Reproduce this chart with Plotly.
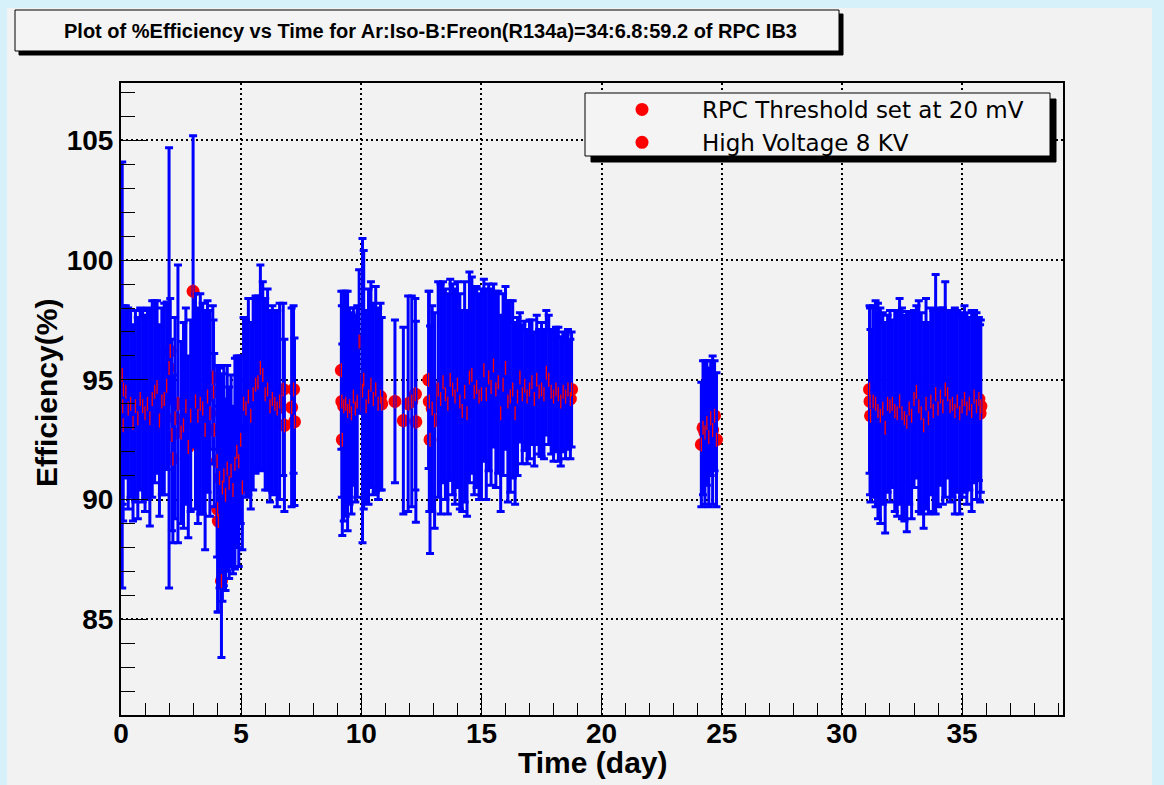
import plotly.graph_objects as go

# ---------------- data ----------------
time_day = [
    # run 1 : day 0 - 3.9
    0.05, 0.07, 0.09, 0.10, 0.20, 0.30, 0.40, 0.50, 0.60, 0.70, 0.80, 0.90,
    1.00, 1.10, 1.20, 1.30, 1.40, 1.50, 1.60, 1.70, 1.80, 1.90,
    2.00, 2.05, 2.12, 2.16, 2.25, 2.37, 2.50, 2.60, 2.70, 2.80, 2.90,
    3.00, 3.10, 3.20, 3.30, 3.40, 3.50, 3.60, 3.70, 3.82, 3.85, 3.88,
    # run 2 : day 4 - 5.05
    4.00, 4.02, 4.05, 4.10, 4.18, 4.22, 4.28, 4.35, 4.42, 4.50, 4.58, 4.66,
    4.74, 4.82, 4.90, 4.98, 5.05,
    # run 3 : day 5.1 - 7.2
    5.10, 5.20, 5.30, 5.40, 5.50, 5.60, 5.70, 5.80, 5.90, 6.00, 6.10, 6.20,
    6.30, 6.40, 6.50, 6.60, 6.75, 6.80, 7.10, 7.18, 7.22,
    # run 4 : day 9.2 - 13.05
    9.17, 9.19, 9.21, 9.27, 9.35, 9.43, 9.51, 9.59, 9.67, 9.75, 9.83, 9.91,
    10.05, 10.10, 10.20, 10.30, 10.40, 10.50, 10.60, 10.70, 10.80, 10.85,
    11.40, 11.75, 11.95, 12.10, 12.25, 12.27, 12.80, 12.83, 12.86, 12.95, 13.05,
    # run 5 : day 13.2 - 18.75
    13.2, 13.3, 13.4, 13.5, 13.6, 13.7, 13.8, 13.9, 14.0, 14.1,
    14.2, 14.3, 14.4, 14.5, 14.6, 14.7, 14.8, 14.9, 15.0, 15.1,
    15.2, 15.3, 15.4, 15.5, 15.6, 15.7, 15.8, 15.9, 16.0, 16.1,
    16.2, 16.3, 16.4, 16.5, 16.6, 16.7, 16.8, 16.9, 17.0, 17.1,
    17.2, 17.3, 17.4, 17.5, 17.6, 17.7, 17.8, 17.9, 18.0, 18.1,
    18.2, 18.3, 18.4, 18.5, 18.6, 18.7, 18.75,
    # run 6 : day 24
    24.15, 24.22, 24.30, 24.38, 24.46, 24.54, 24.62, 24.70, 24.78,
    # run 7 : day 31.2 - 35.8
    31.15, 31.17, 31.19,
    31.3, 31.4, 31.5, 31.6, 31.7, 31.8, 31.9, 32.0, 32.1, 32.2,
    32.3, 32.4, 32.5, 32.6, 32.7, 32.8, 32.9, 33.0, 33.1, 33.2,
    33.3, 33.4, 33.5, 33.6, 33.7, 33.8, 33.9, 34.0, 34.1, 34.2,
    34.3, 34.4, 34.5, 34.6, 34.7, 34.8, 34.9, 35.0, 35.1, 35.2,
    35.3, 35.4, 35.5, 35.6, 35.7, 35.75, 35.78,
]

efficiency = [
    95.2, 93.9, 93.1, 94.6, 94.5, 93.8, 94.0, 93.2, 93.9, 93.4, 94.2, 93.9,
    93.6, 94.0, 93.4, 94.2, 94.5, 94.7, 93.3, 94.1, 94.2, 94.75,
    95.5, 96.2, 92.7, 91.7, 93.4, 94.0, 92.8, 93.1, 93.9, 92.2, 93.5,
    98.7, 94.1, 93.5, 94.0, 93.8, 92.9, 94.3, 93.6, 95.1, 94.5, 92.9,
    91.6, 89.6, 89.1, 90.9, 86.6, 90.5, 91.0, 90.2, 91.3, 90.7, 91.2, 90.4,
    91.5, 92.0, 91.6, 92.5, 90.5,
    94.0, 93.8, 94.3, 93.5, 94.4, 94.8, 94.9, 95.5, 95.2, 94.4, 94.6, 93.9,
    94.2, 94.0, 93.8, 94.1, 94.6, 93.1, 93.85, 94.6, 93.25,
    95.4, 94.1, 92.5, 93.9, 94.0, 93.7, 93.9, 93.6, 94.3, 93.8, 94.1, 96.6,
    94.55, 95.0, 93.9, 94.3, 94.8, 94.2, 94.6, 94.0, 94.3, 94.0,
    94.1, 93.3, 94.0, 94.1, 94.4, 93.25, 95.0, 94.1, 92.5, 93.8, 93.3,
    94.6, 94.2, 94.9, 94.4, 94.0, 95.0, 94.6, 94.3, 94.8, 94.1,
    93.7, 94.5, 93.6, 95.1, 95.2, 94.5, 94.7, 94.3, 94.4, 95.4,
    94.4, 95.1, 94.7, 95.6, 94.6, 94.9, 93.6, 94.8, 95.5, 94.1,
    94.3, 94.6, 93.6, 94.3, 95.1, 94.4, 94.75, 94.3, 94.6, 94.9,
    94.2, 95.0, 94.5, 94.6, 94.4, 95.3, 95.0, 94.5, 94.3, 94.6,
    94.4, 94.1, 94.5, 94.3, 94.6, 94.2, 94.6,
    92.3, 93.0, 92.8, 93.2, 92.6, 93.4, 92.9, 93.5, 92.5,
    94.6, 94.1, 93.5,
    94.1, 94.0, 93.7, 93.5, 93.8, 93.0, 94.0, 93.9, 94.0, 93.7,
    93.6, 94.1, 93.6, 93.4, 93.25, 93.8, 93.5, 94.2, 94.5, 93.9,
    93.6, 93.1, 94.0, 93.4, 94.1, 93.7, 94.4, 93.8, 94.3, 93.9,
    94.6, 94.4, 93.9, 94.0, 93.7, 94.1, 93.6, 93.9, 94.2, 93.8,
    94.0, 93.7, 94.3, 93.9, 94.2, 93.6, 93.9,
]

eff_err = [
    8.9, 4.1, 4.0, 3.5, 3.6, 4.2, 3.9, 4.1, 4.0, 4.2, 3.8, 4.0,
    4.1, 4.0, 4.5, 4.1, 3.8, 3.6, 4.0, 3.9, 4.0, 3.5,
    9.2, 2.2, 4.0, 3.5, 4.2, 5.8, 3.8, 4.3, 4.1, 3.8, 4.0,
    6.5, 4.5, 4.5, 4.6, 4.4, 5.0, 4.0, 4.3, 3.0, 3.0, 3.2,
    4.0, 4.3, 3.8, 4.6, 3.2, 4.75, 4.6, 4.0, 4.3, 4.0, 4.0, 3.5,
    4.4, 4.0, 4.4, 3.5, 2.6,
    3.6, 3.7, 4.1, 3.9, 4.0, 3.7, 3.6, 4.3, 3.9, 4.0, 4.2, 4.0,
    3.9, 3.8, 4.1, 4.1, 3.6, 3.6, 4.15, 3.5, 3.5,
    3.3, 4.0, 4.0, 4.8, 4.7, 5.0, 4.1, 4.2, 3.7, 3.9, 4.0, 3.0,
    6.35, 5.4, 4.0, 4.5, 4.3, 4.0, 4.3, 4.0, 3.9, 3.6,
    3.4, 3.9, 4.5, 4.4, 4.0, 4.2, 3.7, 4.6, 4.75, 4.3, 4.5,
    4.5, 4.8, 4.2, 4.4, 4.6, 4.2, 4.4, 4.5, 4.3, 4.5,
    4.2, 4.6, 4.3, 4.4, 4.1, 4.3, 4.2, 4.3, 4.4, 3.8,
    4.4, 3.9, 4.1, 3.4, 4.1, 3.8, 4.1, 3.8, 3.4, 4.2,
    4.0, 3.7, 3.8, 3.3, 2.7, 2.9, 2.7, 2.8, 2.9, 2.6,
    2.8, 2.7, 2.6, 2.8, 2.7, 2.6, 2.7, 2.6, 2.7, 2.6,
    2.8, 2.7, 2.5, 2.6, 2.5, 2.5, 2.4,
    2.6, 2.8, 3.0, 2.6, 2.9, 2.4, 3.1, 2.3, 2.8,
    3.5, 3.9, 3.6,
    4.0, 4.3, 4.5, 4.5, 4.0, 4.4, 3.7, 4.0, 3.5, 4.2,
    4.3, 4.3, 4.4, 4.3, 4.6, 4.0, 4.3, 3.7, 3.6, 4.4,
    4.2, 4.3, 4.4, 4.0, 3.9, 4.2, 5.0, 4.1, 3.7, 4.1,
    4.5, 3.5, 4.0, 3.9, 4.3, 3.8, 4.2, 3.8, 3.9, 4.0,
    3.6, 4.2, 3.6, 3.9, 3.4, 3.7, 3.6,
]

title_text = "Plot of %Efficiency vs Time for Ar:Iso-B:Freon(R134a)=34:6.8:59.2 of RPC IB3"
legend_names = ["RPC Threshold set at 20 mV", "High Voltage 8 KV"]
x_title = "Time (day)"
y_title = "Efficiency(%)"

n = min(len(time_day), len(efficiency), len(eff_err))
time_day, efficiency, eff_err = time_day[:n], efficiency[:n], eff_err[:n]

# ---------------- layout geometry ----------------
W, H = 1164, 785
L, R, T, B = 121, 1063, 83, 715


def px(x, y):
    return (x - L) / (R - L), (B - y) / (B - T)


FONT = "Liberation Sans, Arial, Helvetica, sans-serif"

fig = go.Figure()

# markers first (ROOT paints markers before the error bars)
fig.add_trace(go.Scatter(
    x=time_day, y=efficiency, mode="markers", name=legend_names[0],
    marker=dict(color="#ff0000", size=13, symbol="circle"),
    showlegend=True,
))
# error bars on top
fig.add_trace(go.Scatter(
    x=time_day, y=efficiency, mode="markers", showlegend=False,
    marker=dict(color="rgba(0,0,0,0)", size=1),
    error_y=dict(type="data", array=eff_err, color="#0000ff", thickness=3, width=4),
))
# the slivers of the markers that stay visible between neighbouring bars
fig.add_trace(go.Scatter(
    x=time_day, y=efficiency, mode="markers", showlegend=False,
    marker=dict(symbol="line-ns", size=10, color="#ff0000",
                line=dict(color="#ff0000", width=1.3)),
))
# second legend entry
fig.add_trace(go.Scatter(
    x=[None], y=[None], mode="markers", name=legend_names[1],
    marker=dict(color="#ff0000", size=13, symbol="circle"), showlegend=True,
))

shapes = []
x0, y0 = px(7, 8)
x1, y1 = px(1152, 790)
shapes.append(dict(type="rect", xref="paper", yref="paper", x0=x0, y0=y0, x1=x1, y1=y1,
                   fillcolor="#f2f2f2", line=dict(width=0), layer="below"))
for (a, b, c, d, fill) in [(19, 14, 843, 55, "#000000"), (15, 10, 839, 51, "#f4f4f4")]:
    x0, y0 = px(a, b)
    x1, y1 = px(c, d)
    shapes.append(dict(type="rect", xref="paper", yref="paper", x0=x0, y0=y0, x1=x1, y1=y1,
                       fillcolor=fill, line=dict(color="#000000", width=1), layer="above"))
for (a, b, c, d, fill) in [(591, 99, 1056, 162, "#000000"), (585, 93, 1050, 156, "#f4f4f4")]:
    x0, y0 = px(a, b)
    x1, y1 = px(c, d)
    shapes.append(dict(type="rect", xref="paper", yref="paper", x0=x0, y0=y0, x1=x1, y1=y1,
                       fillcolor=fill, line=dict(color="#000000", width=1), layer="above"))

annotations = []
ax, ay = px(430, 31)
annotations.append(dict(text=title_text, x=ax, y=ay, xref="paper", yref="paper",
                        showarrow=False, xanchor="center", yanchor="middle",
                        font=dict(family=FONT, size=20, color="#000000", weight="bold")))
ax, ay = px(593, 762)
annotations.append(dict(text=x_title, x=ax, y=ay, xref="paper", yref="paper",
                        showarrow=False, xanchor="center", yanchor="middle",
                        font=dict(family=FONT, size=30, color="#000000", weight="bold")))
ax, ay = px(47, 393)
annotations.append(dict(text=y_title, x=ax, y=ay, xref="paper", yref="paper",
                        showarrow=False, xanchor="center", yanchor="middle", textangle=-90,
                        font=dict(family=FONT, size=30, color="#000000", weight="bold")))

lx, ly = px(582, 88)

axis_common = dict(
    showgrid=True, gridcolor="#000000", gridwidth=1.5, griddash="2px,3px",
    showline=True, linecolor="#000000", linewidth=2, mirror=True,
    zeroline=False, ticks="inside", tickcolor="#000000", tickwidth=1,
    tickfont=dict(family=FONT, size=28, color="#000000", weight="bold"),
    tick0=0, dtick=5,
)

fig.update_layout(
    width=W, height=H,
    margin=dict(l=L, r=W - R, t=T, b=H - B, pad=0),
    paper_bgcolor="#d6f1fa", plot_bgcolor="rgba(0,0,0,0)",
    xaxis=dict(range=[0, 39.2], ticklen=22, ticklabelstandoff=-8,
               minor=dict(ticks="inside", ticklen=12, dtick=1, tick0=0, tickcolor="#000000", showgrid=False),
               **axis_common),
    yaxis=dict(range=[81, 107.4], ticklen=27,
               minor=dict(ticks="inside", ticklen=14, dtick=1, tick0=0, tickcolor="#000000", showgrid=False),
               **axis_common),
    shapes=shapes, annotations=annotations,
    showlegend=True,
    legend=dict(x=lx, y=ly, xanchor="left", yanchor="top", xref="paper", yref="paper",
                bgcolor="rgba(0,0,0,0)", borderwidth=0, itemwidth=110,
                font=dict(family="DejaVu Sans, " + FONT, size=23, color="#000000"),
                tracegroupgap=0),
)

fig.write_html("out.html", config={"displayModeBar": False},
               post_script="document.body.style.margin='0px';")
